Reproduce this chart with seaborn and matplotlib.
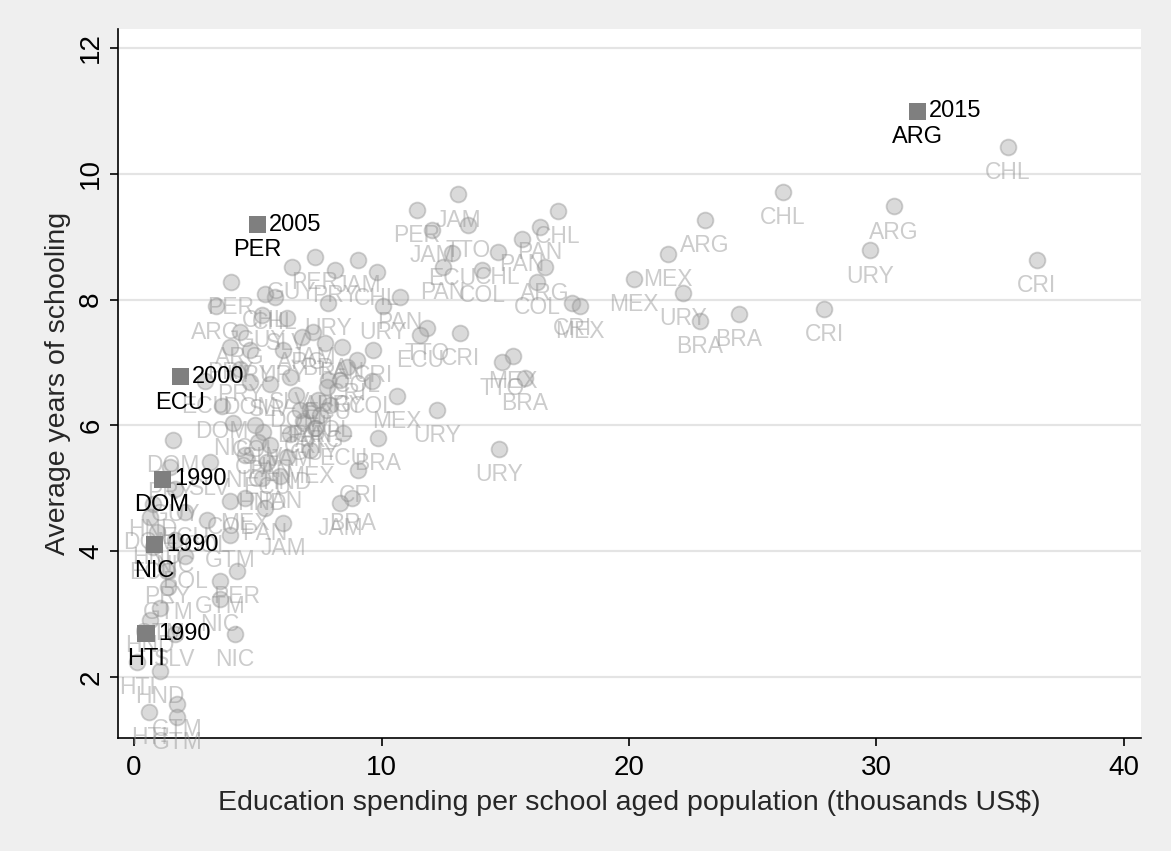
import numpy as np
import pandas as pd
import matplotlib
matplotlib.use("Agg")
import matplotlib.pyplot as plt
import seaborn as sns

# Country-year observations (grey circles)
countries = [
    'CHL', 'CHL', 'ARG', 'ARG', 'URY', 'CRI', 'MEX', 'MEX', 'URY', 'BRA', 'BRA', 'CRI',
    'JAM', 'PER', 'TTO', 'JAM', 'CHL', 'PAN', 'PAN', 'CHL', 'ECU', 'PAN', 'COL', 'ARG',
    'COL', 'CRI', 'MEX', 'TTO', 'ECU', 'CRI', 'MEX', 'TTO', 'BRA', 'URY', 'URY', 'MEX',
    'PAN', 'URY', 'CHL', 'BRA',
    'PER', 'JAM', 'PRY', 'GUY', 'URY', 'CHL', 'JAM', 'BRA', 'PAN', 'CRI', 'COL', 'ARG', 'SLV',
    'PER', 'ARG', 'CHL', 'GUY', 'ARG', 'PRY', 'URY',
    'DOM', 'DOM', 'PRY', 'NIC', 'SLV', 'PRY', 'ECU', 'DOM', 'SLV',
    'ARG', 'COL', 'SLV', 'JAM', 'CRI', 'ECU', 'CRI', 'MEX', 'HND', 'URY', 'CHL', 'BRA',
    'PAN', 'DOM', 'GUY', 'ARG', 'COL', 'ECU', 'URY', 'CRI',
    'JAM', 'BRA', 'JAM', 'PAN', 'PAN', 'ECU', 'COL', 'MEX',
    'GUY', 'HND', 'DOM', 'HND', 'ECU', 'BOL', 'NIC', 'GTM', 'COL', 'PRY', 'PER', 'GTM',
    'GTM', 'NIC', 'NIC', 'SLV', 'HTI', 'HND', 'GTM', 'HTI', 'GTM', 'GTM', 'HND',
    'ECU', 'CHL', 'NIC', 'SLV', 'COL', 'PAN', 'HND',
]
spending = [
    35.31, 26.22, 30.71, 23.07, 29.74, 36.48, 21.58, 20.20, 22.18, 22.87, 24.44, 27.88,
    13.09, 11.43, 13.49, 12.04, 17.13, 16.40, 15.68, 14.71, 12.85, 12.48, 14.06, 16.61,
    16.28, 17.70, 18.02, 11.84, 11.56, 13.17, 15.31, 14.87, 15.80, 12.24, 14.75, 10.63,
    10.75, 10.06, 9.82, 9.86,
    7.31, 9.05, 8.12, 6.38, 7.84, 5.70, 7.23, 7.72, 8.40, 9.66, 9.01, 6.79, 6.18,
    3.92, 3.31, 5.29, 5.17, 4.28, 3.88, 4.69,
    3.56, 1.58, 4.28, 4.00, 5.21, 1.45, 2.87, 4.69, 5.49,
    7.84, 9.62, 6.30, 6.30, 6.83, 8.44, 9.05, 7.11, 6.18, 6.02, 7.43, 6.71,
    7.11, 6.55, 7.31, 7.52, 7.92, 7.80, 8.32, 8.61,
    6.02, 8.81, 8.32, 5.29, 5.90, 5.37, 3.88, 4.48,
    1.66, 0.77, 0.65, 0.93, 0.77, 2.06, 1.66, 3.88, 2.95, 1.33, 4.16, 3.47,
    1.37, 3.47, 4.08, 1.66, 0.12, 1.05, 1.74, 0.61, 1.74, 1.05, 0.65,
    2.06, 5.01, 4.48, 3.07, 4.89, 5.49, 5.17,
]
schooling = [
    10.43, 9.71, 9.48, 9.27, 8.78, 8.63, 8.73, 8.33, 8.11, 7.66, 7.77, 7.85,
    9.67, 9.43, 9.19, 9.11, 9.41, 9.16, 8.97, 8.76, 8.74, 8.52, 8.47, 8.51,
    8.28, 7.95, 7.90, 7.55, 7.44, 7.47, 7.11, 7.00, 6.76, 6.25, 5.63, 6.47,
    8.04, 7.89, 8.43, 5.80,
    8.68, 8.63, 8.47, 8.52, 7.95, 8.04, 7.49, 7.31, 7.25, 7.20, 7.04, 7.41, 7.71,
    8.28, 7.89, 8.08, 7.76, 7.49, 7.25, 7.20,
    6.31, 5.77, 6.90, 6.04, 5.90, 5.34, 6.71, 6.69, 6.66,
    6.72, 6.71, 6.77, 5.87, 6.07, 5.88, 5.29, 5.60, 5.50, 7.20, 6.41, 6.25,
    6.25, 6.49, 5.96, 6.17, 6.33, 6.61, 6.72, 6.92,
    4.45, 4.85, 4.77, 4.69, 5.20, 5.42, 4.79, 4.85,
    4.99, 4.75, 4.55, 4.31, 4.07, 3.93, 4.18, 4.26, 4.50, 3.69, 3.69, 3.53,
    3.43, 3.24, 2.69, 2.69, 2.24, 2.10, 1.57, 1.45, 1.37, 3.10, 2.91,
    4.63, 5.74, 5.53, 5.41, 6.01, 5.69, 5.17,
]

# Highlighted observations (dark squares)
hl_countries = ['ARG', 'PER', 'ECU', 'DOM', 'NIC', 'HTI']
hl_years = ['2015', '2005', '2000', '1990', '1990', '1990']
hl_spending = [31.64, 4.97, 1.86, 1.13, 0.81, 0.48]
hl_schooling = [10.99, 9.19, 6.77, 5.14, 4.10, 2.69]

df = pd.DataFrame({'country': countries, 'spend': spending, 'school': schooling})
hl = pd.DataFrame({'country': hl_countries, 'year': hl_years,
                   'spend': hl_spending, 'school': hl_schooling})

sns.set_style("white")
plt.rcParams['font.family'] = ['Liberation Sans', 'DejaVu Sans']

fig = plt.figure(figsize=(11.71, 8.51), dpi=100, facecolor='#efefef')
ax = fig.add_axes([0.1008, 0.1328, 0.8736, 0.8331])
ax.set_facecolor('white')

# grey circles with labels below
sns.scatterplot(data=df, x='spend', y='school', ax=ax, s=130, color='#a4a4a4',
                alpha=0.4, edgecolor='#8a8a8a', linewidth=1.3, zorder=3, legend=False)
for c, x, y in zip(df['country'], df['spend'], df['school']):
    ax.annotate(c, (x, y), xytext=(0, -18.5), textcoords='offset points',
                ha='center', va='center', fontsize=16.5, color='#8e8e8e', alpha=0.45, zorder=3)

# highlighted squares
sns.scatterplot(data=hl, x='spend', y='school', ax=ax, marker='s', s=150,
                color='#7f7f7f', edgecolor='none', zorder=4, legend=False)
for c, yr, x, y in zip(hl['country'], hl['year'], hl['spend'], hl['school']):
    ax.annotate(yr, (x, y), xytext=(8.5, 0), textcoords='offset points',
                ha='left', va='center', fontsize=17, color='black', zorder=5)
    ax.annotate(c, (x, y), xytext=(0, -18.5), textcoords='offset points',
                ha='center', va='center', fontsize=17, color='black', zorder=5)

ax.set_xlim(-0.65, 40.69)
ax.set_ylim(1.03, 12.3)
ax.set_xticks([0, 10, 20, 30, 40])
ax.set_yticks([2, 4, 6, 8, 10, 12])
ax.yaxis.grid(True, color='#e4e4e4', linewidth=1.6)
ax.xaxis.grid(False)
ax.set_axisbelow(True)

for side in ['top', 'right']:
    ax.spines[side].set_visible(False)
for side in ['left', 'bottom']:
    ax.spines[side].set_color('black')
    ax.spines[side].set_linewidth(1.2)

ax.tick_params(axis='both', direction='out', length=6, width=1.2, colors='black',
               labelsize=20)
ax.tick_params(axis='x', bottom=True, pad=6)
ax.tick_params(axis='y', left=True, pad=4)
plt.setp(ax.get_yticklabels(), rotation=90, va='center')

ax.set_xlabel('Education spending per school aged population (thousands US$)',
              fontsize=20.5, labelpad=7)
ax.set_ylabel('Average years of schooling', fontsize=20.5, labelpad=5)

fig.savefig('out.png', dpi=100, facecolor=fig.get_facecolor())
